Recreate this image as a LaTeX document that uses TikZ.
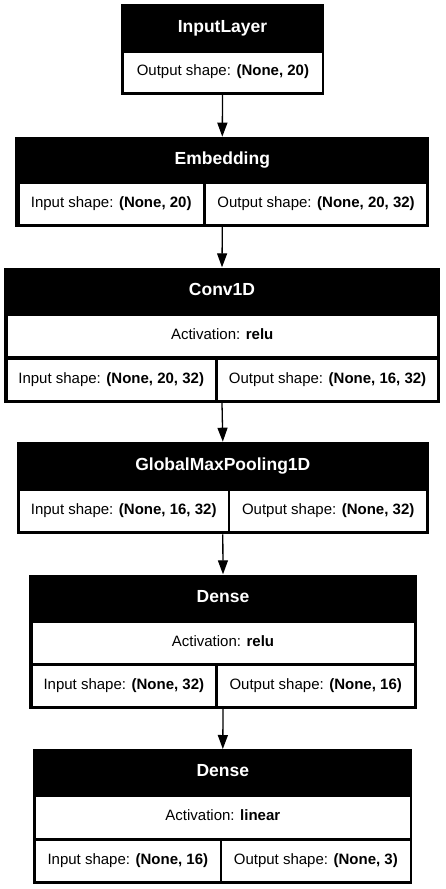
\documentclass[tikz,border=0pt]{standalone}
\usepackage{fontspec}
\setmainfont{Liberation Sans}
\usetikzlibrary{arrows.meta}
\begin{document}
\begin{tikzpicture}[x=1pt, y=-1pt,
    layer/.style={fill=black, inner sep=0pt, anchor=north},
    title/.style={text=white, inner sep=0pt, text height=0.72em, text depth=0pt,
      font=\fontsize{17.5}{20}\selectfont\bfseries},
    cell/.style={fill=white, inner sep=0pt, anchor=north west, minimum height=40pt,
      text height=0.72em, text depth=0pt, font=\fontsize{15}{18}\selectfont},
    arr/.style={-{Triangle[length=14pt, width=10pt]}, line width=1.3pt}]
  \useasboundingbox (0,0) rectangle (445,889);

  % InputLayer
  \node[layer, minimum width=203.6pt, minimum height=90.3pt] (inp) at (222.5,4) {};
  \node[title] (inptitle) at (222.5,28.5) {InputLayer};
  \node[cell, minimum width=197.4pt, minimum height=39.4pt] (inpout) at (124,52.3) {Output shape: \textbf{(None, 20)}};

  % Embedding
  \node[layer, minimum width=414pt, minimum height=90pt] (emb) at (222.3,136.7) {};
  \node[title] (embtitle) at (222.3,160.6) {Embedding};
  \node[cell, minimum width=183.4pt] (embin) at (19.3,184) {Input shape: \textbf{(None, 20)}};
  \node[cell, minimum width=219.7pt] (embout) at (206,184) {Output shape: \textbf{(None, 20, 32)}};

  % Conv1D
  \node[layer, minimum width=436pt, minimum height=135.4pt] (conv) at (222,267.3) {};
  \node[title] (convtitle) at (222,291.9) {Conv1D};
  \node[cell, minimum width=429.4pt] (convact) at (7.3,316) {Activation: \textbf{relu}};
  \node[cell, minimum width=207.4pt] (convin) at (7.3,359.3) {Input shape: \textbf{(None, 20, 32)}};
  \node[cell, minimum width=218.7pt] (convout) at (218,359.3) {Output shape: \textbf{(None, 16, 32)}};

  % GlobalMaxPooling1D
  \node[layer, minimum width=412.3pt, minimum height=92.3pt] (pool) at (222.8,441.7) {};
  \node[title] (pooltitle) at (222.8,466.5) {GlobalMaxPooling1D};
  \node[cell, minimum width=208.4pt] (poolin) at (19.3,490.7) {Input shape: \textbf{(None, 16, 32)}};
  \node[cell, minimum width=196pt] (poolout) at (230,490.7) {Output shape: \textbf{(None, 32)}};

  % Dense (relu)
  \node[layer, minimum width=387.4pt, minimum height=134pt] (dense) at (223,574.3) {};
  \node[title] (densetitle) at (223,598.8) {Dense};
  \node[cell, minimum width=381pt] (denseact) at (32.3,622.7) {Activation: \textbf{relu}};
  \node[cell, minimum width=182.7pt] (densein) at (32.3,665.7) {Input shape: \textbf{(None, 32)}};
  \node[cell, minimum width=195.6pt] (denseout) at (217.7,665.7) {Output shape: \textbf{(None, 16)}};

  % Dense (linear)
  \node[layer, minimum width=379pt, minimum height=134.3pt] (out) at (222.8,749) {};
  \node[title] (outtitle) at (222.8,773.1) {Dense};
  \node[cell, minimum width=373.3pt, minimum height=40.6pt] (outact) at (36,796.7) {Activation: \textbf{linear}};
  \node[cell, minimum width=183.3pt] (outin) at (36,840.7) {Input shape: \textbf{(None, 16)}};
  \node[cell, minimum width=187.3pt] (outout) at (222,840.7) {Output shape: \textbf{(None, 3)}};

  % connectors
  \draw[arr] (inp.south) -- (emb.north);
  \draw[arr] (emb.south) -- (conv.north);
  \draw[arr] (conv.south) -- (pool.north);
  \draw[arr] (pool.south) -- (dense.north);
  \draw[arr] (dense.south) -- (out.north);
\end{tikzpicture}
\end{document}
